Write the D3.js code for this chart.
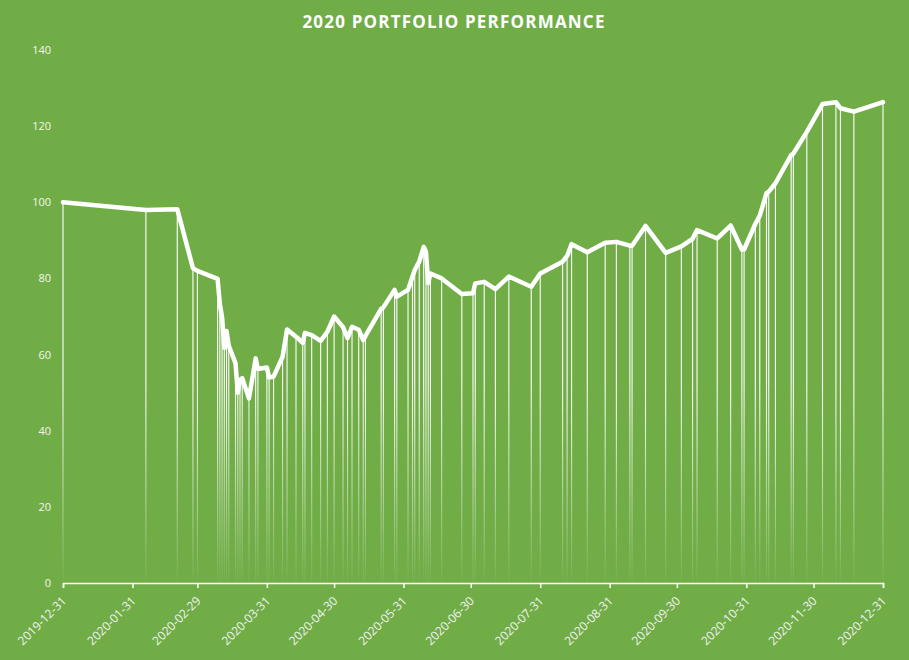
<!DOCTYPE html>
<html>
<head>
<meta charset="utf-8">
<script src="https://cdn.jsdelivr.net/npm/d3@7"></script>
<style>
  html, body { margin: 0; padding: 0; background: #70ad47; }
  svg { display: block; }
</style>
</head>
<body>
<div id="chart"></div>
<script>
const title = "2020 PORTFOLIO PERFORMANCE";

const dates = [
  "2019-12-31","2020-02-06","2020-02-20","2020-02-27","2020-02-29","2020-03-09","2020-03-10","2020-03-11",
  "2020-03-12","2020-03-13","2020-03-14","2020-03-17","2020-03-18","2020-03-19","2020-03-20","2020-03-23",
  "2020-03-26","2020-03-27","2020-03-31","2020-04-01","2020-04-03","2020-04-07","2020-04-09","2020-04-13",
  "2020-04-16","2020-04-17","2020-04-20","2020-04-24","2020-04-27","2020-04-30","2020-05-04","2020-05-06",
  "2020-05-08","2020-05-11","2020-05-13","2020-05-14","2020-05-21","2020-05-22","2020-05-27","2020-05-28",
  "2020-06-02","2020-06-04","2020-06-05","2020-06-07","2020-06-09","2020-06-10","2020-06-11","2020-06-12",
  "2020-06-17","2020-06-26","2020-07-01","2020-07-02","2020-07-06","2020-07-11","2020-07-17","2020-07-27",
  "2020-07-31","2020-08-10","2020-08-12","2020-08-14","2020-08-21","2020-08-29","2020-09-03","2020-09-09",
  "2020-09-10","2020-09-16","2020-09-25","2020-10-02","2020-10-07","2020-10-09","2020-10-18","2020-10-24",
  "2020-10-29","2020-10-30","2020-11-04","2020-11-06","2020-11-09","2020-11-10","2020-11-13","2020-11-20",
  "2020-11-21","2020-11-27","2020-12-04","2020-12-10","2020-12-12","2020-12-18","2020-12-31"
];

const values = [
  100.0, 98.0, 98.2, 82.7, 82.0, 79.9, 73.3, 69.8,
  61.8, 66.2, 62.3, 57.7, 50.0, 53.3, 53.8, 48.5,
  59.0, 56.2, 56.6, 54.0, 54.2, 59.4, 66.6, 64.7,
  63.1, 65.7, 65.1, 63.6, 66.0, 70.0, 67.2, 64.3,
  67.3, 66.5, 63.8, 64.9, 72.0, 72.4, 77.0, 75.2,
  77.0, 80.5, 82.2, 84.4, 88.3, 87.0, 78.8, 81.3,
  80.0, 75.9, 76.1, 78.7, 79.1, 77.2, 80.5, 77.8,
  81.3, 84.4, 85.9, 89.0, 86.9, 89.4, 89.6, 88.6,
  88.6, 93.8, 86.7, 88.4, 90.4, 92.7, 90.5, 93.9,
  87.6, 87.6, 94.3, 96.5, 102.4, 102.8, 105.0, 112.4,
  112.8, 118.5, 125.8, 126.3, 124.7, 123.8, 126.3
];

const xTickLabels = [
  "2019-12-31","2020-01-31","2020-02-29","2020-03-31","2020-04-30","2020-05-31","2020-06-30",
  "2020-07-31","2020-08-31","2020-09-30","2020-10-31","2020-11-30","2020-12-31"
];
const yTicks = [0, 20, 40, 60, 80, 100, 120, 140];

const W = 909, H = 660;
const margin = { left: 63, right: 26, top: 50, bottom: 77 };
const parse = d3.utcParse("%Y-%m-%d");
const data = dates.map((d, i) => ({ date: parse(d), value: values[i] }));

const svg = d3.select("#chart").append("svg")
  .attr("width", W).attr("height", H)
  .style("font-family", "'Open Sans', 'Noto Sans', sans-serif");

svg.append("rect").attr("width", W).attr("height", H).attr("fill", "#70ad47");

const x = d3.scaleUtc()
  .domain([parse(xTickLabels[0]), parse(xTickLabels[xTickLabels.length - 1])])
  .range([margin.left, W - margin.right]);
const y = d3.scaleLinear().domain([0, 140]).range([H - margin.bottom, margin.top]);

// gradient for drop lines
const defs = svg.append("defs");
const grad = defs.append("linearGradient")
  .attr("id", "dropGrad")
  .attr("gradientUnits", "userSpaceOnUse")
  .attr("x1", 0).attr("x2", 0)
  .attr("y1", y(140)).attr("y2", y(0));
grad.append("stop").attr("offset", "0%").attr("stop-color", "#ffffff").attr("stop-opacity", 1);
grad.append("stop").attr("offset", "62%").attr("stop-color", "#ffffff").attr("stop-opacity", 1);
grad.append("stop").attr("offset", "100%").attr("stop-color", "#ffffff").attr("stop-opacity", 0.03);

// drop lines
svg.append("g").selectAll("path")
  .data(data)
  .join("path")
  .attr("d", d => `M${x(d.date)},${y(d.value)}V${y(0)}`)
  .attr("stroke", "url(#dropGrad)")
  .attr("stroke-width", 1.1)
  .attr("fill", "none");

// y-axis labels
const yAxis = d3.axisLeft(y).tickValues(yTicks).tickSize(0).tickPadding(0);
const gy = svg.append("g").attr("transform", `translate(${margin.left - 12},0)`).call(yAxis);
gy.select(".domain").remove();
gy.selectAll("text")
  .attr("fill", "#f5f5e8")
  .style("font-size", "11px")
  .style("font-family", "'Open Sans', sans-serif");

// x axis
const xAxis = d3.axisBottom(x)
  .tickValues(xTickLabels.map(parse))
  .tickFormat(d3.utcFormat("%Y-%m-%d"))
  .tickSizeOuter(0)
  .tickSize(5);
const gx = svg.append("g").attr("transform", `translate(0,${y(0)})`).call(xAxis);
gx.select(".domain").attr("stroke", "#ffffff").attr("stroke-width", 1.5);
gx.selectAll(".tick line").attr("stroke", "#ffffff").attr("stroke-width", 1.5);
gx.selectAll("text")
  .attr("fill", "#f2f2f2")
  .style("font-size", "12px")
  .style("font-family", "'Open Sans', sans-serif")
  .attr("text-anchor", "end")
  .attr("dy", "0")
  .attr("transform", "translate(-2,13) rotate(-45)");

// line
const line = d3.line().x(d => x(d.date)).y(d => y(d.value));
svg.append("path")
  .datum(data)
  .attr("d", line)
  .attr("fill", "none")
  .attr("stroke", "#ffffff")
  .attr("stroke-width", 4.5)
  .attr("stroke-linejoin", "round")
  .attr("stroke-linecap", "round");

// title
svg.append("text")
  .attr("x", 454).attr("y", 28)
  .attr("text-anchor", "middle")
  .attr("fill", "#ffffff")
  .style("font-size", "17px")
  .style("font-weight", "bold")
  .style("letter-spacing", "1.2px")
  .style("font-family", "'Open Sans', sans-serif")
  .text(title);
</script>
</body>
</html>
